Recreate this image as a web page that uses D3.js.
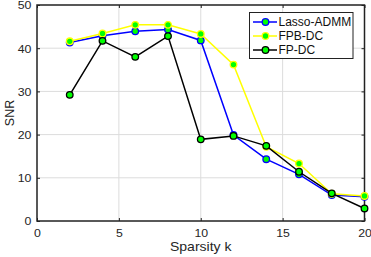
<!DOCTYPE html>
<html><head><meta charset="utf-8">
<script src="https://cdn.jsdelivr.net/npm/d3@7"></script>
<style>body{margin:0;background:#fff}svg{display:block}text{font-family:"Liberation Sans",Arial,sans-serif}</style>
</head><body>
<svg id="c" width="371" height="257"></svg>
<script>
const kValues = [2,4,6,8,10,12,14,16,18,20];
const lassoADMM = [41.3,42.9,43.9,44.3,41.8,19.9,14.3,10.8,6.0,5.6];
const fpbDC = [41.6,43.4,45.4,45.4,43.3,36.2,17.2,13.3,6.3,5.8];
const fpDC = [29.2,41.7,38.0,42.8,18.9,19.7,17.4,11.4,6.4,2.9];
const seriesNames = ["Lasso-ADMM","FPB-DC","FP-DC"];
const seriesColors = ["#0000ff","#ffff00","#000000"];
const xTicks = [0,5,10,15,20];
const yTicks = [0,10,20,30,40,50];

const svg = d3.select("#c");
const L=37,R=364.5,T=5,B=221;
const x = d3.scaleLinear().domain([0,20]).range([L,R]);
const y = d3.scaleLinear().domain([0,50]).range([B,T]);

// grid
svg.append("g").selectAll("line").data(xTicks.slice(1,-1)).join("line")
  .attr("x1",d=>x(d)).attr("x2",d=>x(d)).attr("y1",T).attr("y2",B)
  .attr("stroke","#dcdcdc").attr("stroke-width",1);
svg.append("g").selectAll("line").data(yTicks.slice(1,-1)).join("line")
  .attr("y1",d=>y(d)).attr("y2",d=>y(d)).attr("x1",L).attr("x2",R)
  .attr("stroke","#dcdcdc").attr("stroke-width",1);

// axes
const xAx = svg.append("g").attr("transform",`translate(0,${B})`)
  .call(d3.axisBottom(x).tickValues(xTicks).tickSizeInner(-3).tickSizeOuter(0).tickPadding(8));
const yAx = svg.append("g").attr("transform",`translate(${L},0)`)
  .call(d3.axisLeft(y).tickValues(yTicks).tickSizeInner(-3).tickSizeOuter(0).tickPadding(5));
const xAxTop = svg.append("g").attr("transform",`translate(0,${T})`)
  .call(d3.axisTop(x).tickValues(xTicks).tickSizeInner(-3).tickSizeOuter(0).tickFormat(""));
const yAxR = svg.append("g").attr("transform",`translate(${R},0)`)
  .call(d3.axisRight(y).tickValues(yTicks).tickSizeInner(-3).tickSizeOuter(0).tickFormat(""));
[xAx,yAx,xAxTop,yAxR].forEach(g=>{
  g.select(".domain").remove();
  g.selectAll("line").attr("stroke","#222");
  g.selectAll("text").attr("font-size",11).attr("fill","#262626")
    .attr("font-family","Liberation Sans, Arial, sans-serif");
});
xAx.selectAll("text").attr("transform","scale(1.12,1)");
yAx.selectAll("text").attr("dy","0.36em").attr("transform","scale(1.12,1)");
svg.append("rect").attr("x",L).attr("y",T).attr("width",R-L).attr("height",B-T)
  .attr("fill","none").attr("stroke","#222").attr("stroke-width",1.5);

// labels
svg.append("text").attr("transform",`translate(${(L+R)/2},251) scale(1.08,1)`).attr("text-anchor","middle")
  .attr("font-size",13).attr("fill","#262626").text("Sparsity k");
svg.append("text").attr("transform",`translate(13.5,113) rotate(-90)`).attr("text-anchor","middle")
  .attr("font-size",12.5).attr("fill","#262626").text("SNR");

// series
const data = [lassoADMM,fpbDC,fpDC];
const line = d3.line().x((d,i)=>x(kValues[i])).y(d=>y(d));
data.forEach((vals,si)=>{
  svg.append("path").datum(vals).attr("d",line).attr("fill","none")
    .attr("stroke",seriesColors[si]).attr("stroke-width",1.5);
  svg.append("g").selectAll("circle").data(vals).join("circle")
    .attr("cx",(d,i)=>x(kValues[i])).attr("cy",d=>y(d)).attr("r",3.3)
    .attr("fill","#00ff00").attr("stroke",seriesColors[si]).attr("stroke-width",1.3);
});

// legend
const lg = svg.append("g");
lg.append("rect").attr("x",249.5).attr("y",12.5).attr("width",103.5).attr("height",46)
  .attr("fill","#fff").attr("stroke","#222").attr("stroke-width",1);
seriesNames.forEach((n,i)=>{
  const yy = 22 + i*14;
  lg.append("line").attr("x1",253).attr("x2",277).attr("y1",yy).attr("y2",yy)
    .attr("stroke",seriesColors[i]).attr("stroke-width",1.5);
  lg.append("circle").attr("cx",265.5).attr("cy",yy).attr("r",3.3)
    .attr("fill","#00ff00").attr("stroke",seriesColors[i]).attr("stroke-width",1.3);
  lg.append("text").attr("x",278.5).attr("y",yy+4.3).attr("font-size",12).attr("fill","#111").text(n);
});
</script>
</body></html>
